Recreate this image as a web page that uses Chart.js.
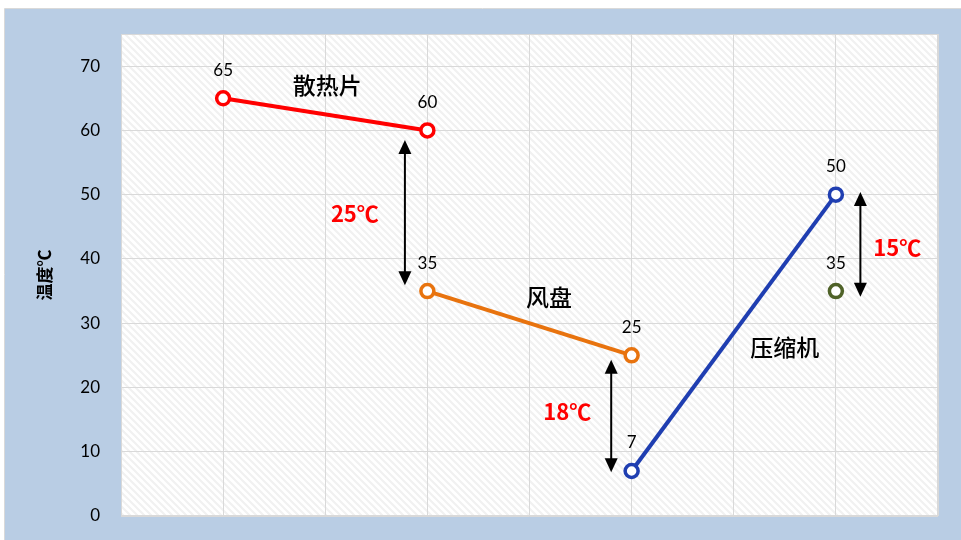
<!DOCTYPE html>
<html>
<head>
<meta charset="utf-8">
<script src="https://cdn.jsdelivr.net/npm/chart.js@4.4.1/dist/chart.umd.min.js"></script>
<style>
  html, body { margin: 0; padding: 0; background: #ffffff; }
  #wrap { width: 961px; height: 540px; position: relative; }
</style>
</head>
<body>
<div id="wrap"><canvas id="c" width="961" height="540"></canvas></div>
<script>
// Temperatures (°C) at each stage of the cooling loop
const heatsinkPts   = [{ x: 1, y: 65 }, { x: 3, y: 60 }];   // 散热片
const fanCoilPts    = [{ x: 3, y: 35 }, { x: 5, y: 25 }];   // 风盘
const compressorPts = [{ x: 5, y: 7 },  { x: 7, y: 50 }];   // 压缩机
const ambientPts    = [{ x: 7, y: 35 }];

const yTicks = [0, 10, 20, 30, 40, 50, 60, 70];

// Temperature-difference arrows: x position, low end, high end (data units)
const arrowX    = [2.78, 4.80, 7.24];
const arrowLow  = [35.9, 6.8, 34.1];
const arrowHigh = [58.5, 24.3, 50.4];
const diffText  = ['25℃', '18℃', '15℃'];
const diffX     = [2.29, 4.37, 7.60];
const diffY     = [47.1, 16.2, 41.8];

// Stage names
const stageText = ['散热片', '风盘', '压缩机'];
const stageX    = [2.02, 4.19, 6.50];
const stageY    = [67.0, 34.1, 26.3];

const FONT_NUM = "Lato, 'Noto Sans', sans-serif";
const FONT_CJK = "'Noto Sans CJK SC', 'Noto Sans', sans-serif";

// Faint diagonal hatch used to fill the plotting area
function makeHatch() {
  const s = 7;
  const pc = document.createElement('canvas');
  pc.width = s; pc.height = s;
  const g = pc.getContext('2d');
  g.fillStyle = '#ffffff';
  g.fillRect(0, 0, s, s);
  g.strokeStyle = '#f1f1f1';
  g.lineWidth = 2.2;
  g.beginPath();
  g.moveTo(-1, -1); g.lineTo(s + 1, s + 1);
  g.moveTo(-1, s - 1); g.lineTo(1, s + 1);
  g.moveTo(s - 1, -1); g.lineTo(s + 1, 1);
  g.stroke();
  return g.createPattern(pc, 'repeat');
}

const backdrop = {
  id: 'backdrop',
  beforeDraw(chart) {
    const { ctx, chartArea: a } = chart;
    ctx.save();
    ctx.fillStyle = '#ffffff';
    ctx.fillRect(0, 0, chart.width, chart.height);
    ctx.fillStyle = '#b9cde4';
    ctx.fillRect(5, 9, chart.width - 5, chart.height - 9);
    ctx.strokeStyle = '#d9d9d9';
    ctx.lineWidth = 1;
    ctx.beginPath();
    ctx.moveTo(4.5, chart.height);
    ctx.lineTo(4.5, 8.5);
    ctx.lineTo(chart.width, 8.5);
    ctx.stroke();
    ctx.fillStyle = makeHatch();
    ctx.fillRect(a.left, a.top, a.right - a.left, a.bottom - a.top);
    ctx.restore();
  },
  afterDraw(chart) {
    const { ctx, chartArea: a } = chart;
    ctx.save();
    ctx.strokeStyle = '#d9d9d9';
    ctx.lineWidth = 1;
    ctx.strokeRect(a.left + 0.5, a.top + 0.5, a.right - a.left - 1, a.bottom - a.top - 1);
    ctx.restore();
  }
};

function drawArrowHead(ctx, x, tipY, dir) {
  // dir = -1 points up, +1 points down
  const w = 6.5, h = 14;
  ctx.beginPath();
  ctx.moveTo(x, tipY);
  ctx.lineTo(x - w, tipY - dir * h);
  ctx.lineTo(x + w, tipY - dir * h);
  ctx.closePath();
  ctx.fill();
}

const annotations = {
  id: 'annotations',
  afterDatasetsDraw(chart) {
    const { ctx } = chart;
    const xs = chart.scales.x, ys = chart.scales.y;
    ctx.save();

    // double-headed arrows
    ctx.strokeStyle = '#000000';
    ctx.fillStyle = '#000000';
    ctx.lineWidth = 2;
    arrowX.forEach((v, i) => {
      const px = xs.getPixelForValue(v);
      const top = ys.getPixelForValue(arrowHigh[i]);
      const bot = ys.getPixelForValue(arrowLow[i]);
      ctx.beginPath();
      ctx.moveTo(px, top + 10);
      ctx.lineTo(px, bot - 10);
      ctx.stroke();
      drawArrowHead(ctx, px, top, -1);
      drawArrowHead(ctx, px, bot, 1);
    });

    // difference labels
    ctx.textAlign = 'center';
    ctx.textBaseline = 'middle';
    ctx.fillStyle = '#ff0000';
    ctx.font = "bold 22px " + FONT_CJK;
    diffText.forEach((t, i) => {
      ctx.fillText(t, xs.getPixelForValue(diffX[i]), ys.getPixelForValue(diffY[i]));
    });

    // stage names
    ctx.fillStyle = '#000000';
    ctx.font = "500 23px " + FONT_CJK;
    stageText.forEach((t, i) => {
      ctx.fillText(t, xs.getPixelForValue(stageX[i]), ys.getPixelForValue(stageY[i]));
    });

    // value labels above each point
    ctx.font = "17px " + FONT_NUM;
    chart.data.datasets.forEach((ds, di) => {
      const meta = chart.getDatasetMeta(di);
      meta.data.forEach((pt, pi) => {
        ctx.fillText(String(ds.data[pi].y), pt.x, pt.y - 28);
      });
    });
    ctx.restore();
  }
};

function series(data, color) {
  return {
    data,
    borderColor: color,
    backgroundColor: '#ffffff',
    borderWidth: 4,
    pointRadius: 6.5,
    pointBorderWidth: 3.5,
    pointBorderColor: color,
    pointBackgroundColor: '#ffffff',
    pointHoverRadius: 6.5,
    showLine: true,
    tension: 0
  };
}

new Chart(document.getElementById('c'), {
  type: 'line',
  data: {
    datasets: [
      series(heatsinkPts, '#ff0000'),
      series(fanCoilPts, '#e8730e'),
      series(compressorPts, '#1f3eb1'),
      series(ambientPts, '#4f6228')
    ]
  },
  options: {
    responsive: false,
    animation: false,
    devicePixelRatio: 1,
    layout: { padding: { left: 0, top: 34, right: 23, bottom: 24 } },
    plugins: { legend: { display: false }, tooltip: { enabled: false } },
    scales: {
      x: {
        type: 'linear',
        min: 0, max: 8,
        afterFit(scale) { scale.height = 0; },
        ticks: { display: false, stepSize: 1, padding: 0 },
        grid: { color: '#d9d9d9', lineWidth: 1, drawTicks: false },
        border: { display: false }
      },
      y: {
        min: 0, max: 75,
        afterBuildTicks(scale) { scale.ticks = yTicks.map(v => ({ value: v })); },
        afterFit(scale) { scale.width = 121; },
        ticks: {
          color: '#000000',
          padding: 0,
          font: { family: FONT_NUM, size: 17 }
        },
        grid: {
          color: '#d9d9d9', lineWidth: 1,
          drawTicks: true, tickLength: 21, tickColor: 'rgba(0,0,0,0)'
        },
        border: { display: false },
        title: {
          display: true,
          text: '温度℃',
          color: '#000000',
          font: { family: FONT_CJK, size: 17, weight: 'bold' },
          padding: { top: 34, bottom: 0 }
        }
      }
    }
  },
  plugins: [backdrop, annotations]
});
</script>
</body>
</html>
